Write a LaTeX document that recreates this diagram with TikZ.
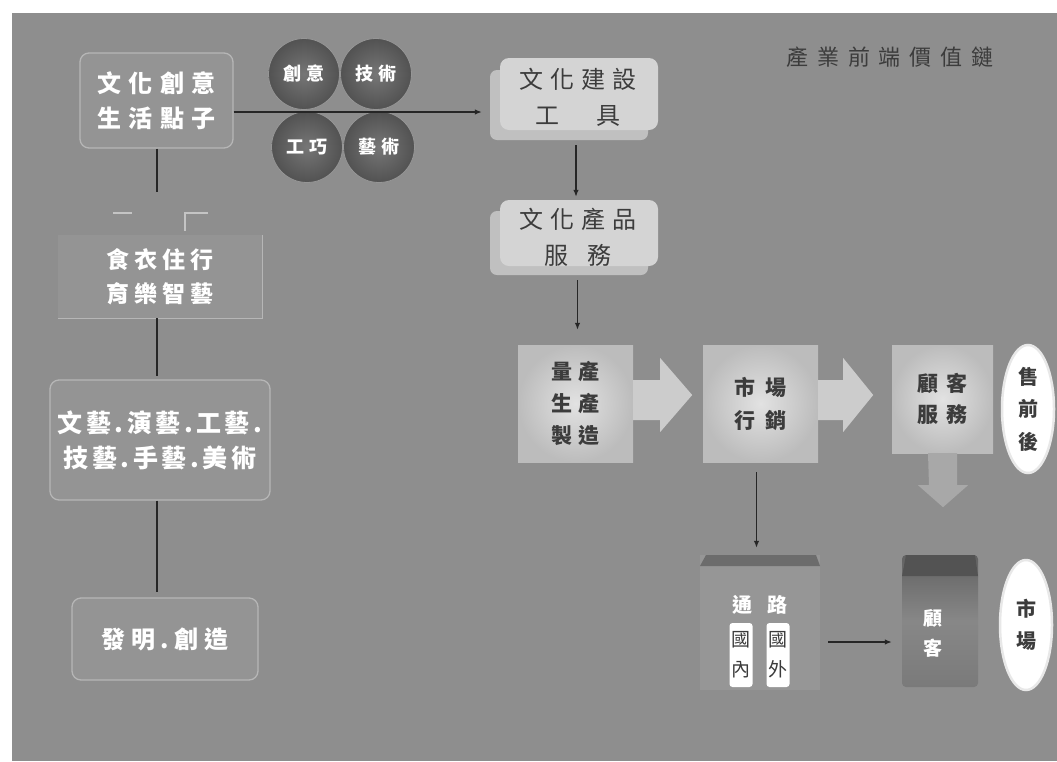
\documentclass[tikz,border=0pt]{standalone}
\usepackage{fontspec}
\newfontfamily\cjk{Noto Sans CJK TC}
\usetikzlibrary{shapes.geometric,arrows.meta,calc}
\definecolor{bgc}{RGB}{142,142,142}
\definecolor{lboxc}{RGB}{148,148,148}
\definecolor{edgec}{RGB}{182,182,182}
\definecolor{connc}{RGB}{38,38,38}
\definecolor{facec}{RGB}{212,212,212}
\definecolor{extc}{RGB}{192,192,192}
\definecolor{darktext}{RGB}{60,60,60}
\definecolor{ballin}{RGB}{118,118,118}
\definecolor{ballout}{RGB}{82,82,82}
\definecolor{ballrim}{RGB}{150,150,150}
\definecolor{blockc}{RGB}{204,204,204}
\definecolor{faintc}{RGB}{168,168,168}
\definecolor{pin}{RGB}{226,226,226}
\definecolor{pout}{RGB}{188,188,188}
\definecolor{tlc}{RGB}{150,150,150}
\definecolor{bandc}{RGB}{108,108,108}
\definecolor{cktop}{RGB}{98,98,98}
\definecolor{ckbot}{RGB}{122,122,122}
\definecolor{tickc}{RGB}{196,196,196}
\begin{document}
\begin{tikzpicture}[x=1pt,y=-1pt,
  lbox/.style={draw=edgec, line width=1.3pt, fill=lboxc, rounded corners=9pt, text=white, align=center, inner sep=0pt},
  ltext/.style={font={\cjk\bfseries\fontsize{24}{35}\selectfont\addfontfeature{LetterSpace=30}}},
  conn/.style={draw=connc, line width=1.6pt},
  arr/.style={draw=connc, line width=1.3pt, -{Latex[length=7pt,width=5.5pt]}},
  ball/.style={circle, minimum size=71pt, inner sep=0pt, inner color=ballin, outer color=ballout, draw=ballrim, line width=0.8pt, text=white, font={\cjk\bfseries\fontsize{18}{20}\selectfont\addfontfeature{LetterSpace=25}}},
  lighttext/.style={inner sep=0pt, text=darktext, align=center, font={\cjk\fontsize{24}{36}\selectfont\addfontfeature{LetterSpace=30}}},
  pbox/.style={inner sep=0pt, inner color=pin, outer color=pout, text=darktext, align=center, font={\cjk\bfseries\fontsize{21}{32}\selectfont\addfontfeature{LetterSpace=32}}},
  ovaltag/.style={ellipse, inner sep=0pt, fill=white, draw=white!80!bgc, line width=2.5pt, text=darktext, align=center, font={\cjk\bfseries\fontsize{20}{32.5}\selectfont}},
  wtext/.style={inner sep=0pt, text=white, align=center, font={\cjk\bfseries\fontsize{20}{30}\selectfont}},
  wtag/.style={fill=white, rounded corners=3pt, inner sep=1pt, minimum width=23pt, minimum height=64pt, text=darktext, align=center, font={\cjk\fontsize{19}{30}\selectfont}}
]
\useasboundingbox (0,0) rectangle (1057,761);
\fill[white] (0,0) rectangle (1057,761);
\fill[bgc] (12,13) rectangle (1057,761);

% title
\node[inner sep=0pt, text=darktext, font={\cjk\fontsize{22}{26}\selectfont\addfontfeature{LetterSpace=40}}] (title) at (890,57) {產業前端價值鏈};

% left column
\node[lbox, ltext, minimum width=153pt, minimum height=95pt] (a) at (156.5,100.5) {文化創意\\生活點子};
\node[inner sep=0pt, fill=lboxc, text=white, align=center, minimum width=204pt, minimum height=83pt, font={\cjk\bfseries\fontsize{23}{34}\selectfont\addfontfeature{LetterSpace=22}}] (b) at (160,276.5) {食衣住行\\育樂智藝};
\draw[edgec, line width=1.3pt] (b.north east) -- (b.south east) -- (b.south west);
\node[lbox, align=center, minimum width=220pt, minimum height=120pt, font={\cjk\bfseries\fontsize{25}{35}\selectfont\addfontfeature{LetterSpace=14}}] (c) at (160,440) {文藝.演藝.工藝.\\技藝.手藝.美術};
\node[lbox, minimum width=186pt, minimum height=82pt, font={\cjk\bfseries\fontsize{24}{35}\selectfont\addfontfeature{LetterSpace=24}}] (d) at (165,639) {發明.創造};

\coordinate (aend) at (157,192);
\draw[conn] ([xshift=0.5pt]a.south) -- (aend);
\draw[conn, shorten >=3pt] ([xshift=-3pt]b.south) -- ([xshift=-3pt]b.south |- c.north);
\draw[conn, shorten >=5pt] ([xshift=-3pt]c.south) -- ([xshift=-3pt]c.south |- d.north);
\draw[tickc, line width=1.6pt] (113,213) -- (132,213);
\draw[tickc, line width=1.6pt] (185,231) -- (185,213) -- (208,213);

% circles
\node[ball] (c1) at (304,74) {創意};
\node[ball] (c2) at (376,74) {技術};
\node[ball] (c3) at (307,147) {工巧};
\node[ball] (c4) at (379,147) {藝術};

% top right boxes
\fill[extc, rounded corners=7pt] (490,70) rectangle (648,140);
\fill[facec, rounded corners=9pt] (500,58) rectangle (658,130);
\node[lighttext, minimum width=168pt, minimum height=82pt] (t1) at (578,97) {文化建設\\工\hspace{38pt}具};
\fill[extc, rounded corners=7pt] (490,211) rectangle (648,275);
\fill[facec, rounded corners=9pt] (500,200) rectangle (658,266);
\node[lighttext, minimum width=168pt, minimum height=75pt] (t2) at (578,237.5) {文化產品\\服\hspace{20pt}務};

\draw[arr] (a.east |- 0,112) -- ($(t1.west |- 0,112)+(-12,0)$);
\draw[arr, shorten <=7pt, shorten >=3pt] ([xshift=-2pt]t1.south) -- ([xshift=-2pt]t2.north);

% process boxes
\node[pbox, minimum width=115pt, minimum height=117pt] (p1) at (575.5,403.5) {量產\\生產\\製造};
\node[pbox, minimum width=115pt, minimum height=117pt, font={\cjk\bfseries\fontsize{21}{33}\selectfont\addfontfeature{LetterSpace=48}}] (p2) at (760.5,403.5) {市場\\行銷};
\node[pbox, minimum width=101pt, minimum height=108pt, font={\cjk\bfseries\fontsize{21}{31}\selectfont\addfontfeature{LetterSpace=36}}] (p3) at (942.5,399) {顧客\\服務};
\draw[arr, shorten <=5pt, shorten >=15pt] ([xshift=-0.5pt]t2.south) -- ([xshift=-0.5pt]t2.south |- p1.north);

% block arrows
\fill[blockc] ($(p1.east)+(0,-23.5)$) -- ++(27,0) -- ++(0,-22) -- ++(32,37) -- ++(-32,37) -- ++(0,-12) -- ++(-27,0) -- cycle;
\fill[blockc] ($(p2.east)+(0,-23.5)$) -- ++(25,0) -- ++(0,-22) -- ++(30,37) -- ++(-30,37) -- ++(0,-12) -- ++(-25,0) -- cycle;
\fill[faintc] ($(p3.south)+(-14.5,0)$) -- ++(29,0) -- ++(0,32) -- ++(11,0) -- ++(-25,22) -- ++(-25,-22) -- ++(11,0) -- cycle;

% ovals
\node[ovaltag, minimum width=52pt, minimum height=128pt] (e1) at (1028,409) {售\\前\\後};
\node[ovaltag, minimum width=52pt, minimum height=130pt] (e2) at (1026,625) {市\\場};

% channel box
\node[fill=tlc, inner sep=0pt, minimum width=120pt, minimum height=135pt] (tl) at (760,622.5) {};
\fill[bandc] (700,566) -- (706,555) -- (816,555) -- (820,566) -- cycle;
\node[wtext, font={\cjk\bfseries\fontsize{20}{30}\selectfont\addfontfeature{LetterSpace=75}}] (tlt) at (760,605) {通路};
\node[wtag] (gn) at (741,655) {國\\內};
\node[wtag] (gw) at (778,655) {國\\外};

% customer box
\node[top color=cktop, bottom color=ckbot, middle color=ckbot!90!white, inner sep=0pt, minimum width=76pt, minimum height=132pt, rounded corners=4pt] (ck) at (940,621) {};
\fill[cktop!85!black] (902,576) -- (906,555) -- (975,555) -- (978,576) -- cycle;
\node[wtext, font={\cjk\bfseries\fontsize{19}{30}\selectfont}] (ckt) at (933,633) {顧\\客};

\draw[arr, shorten <=10pt, shorten >=7pt] ([xshift=-4pt]p2.south) -- ([xshift=-4pt]p2.south |- tl.north);
\draw[arr, shorten <=8pt, shorten >=10pt] (tl.east |- 0,642) -- (ck.west |- 0,642);
\end{tikzpicture}
\end{document}
